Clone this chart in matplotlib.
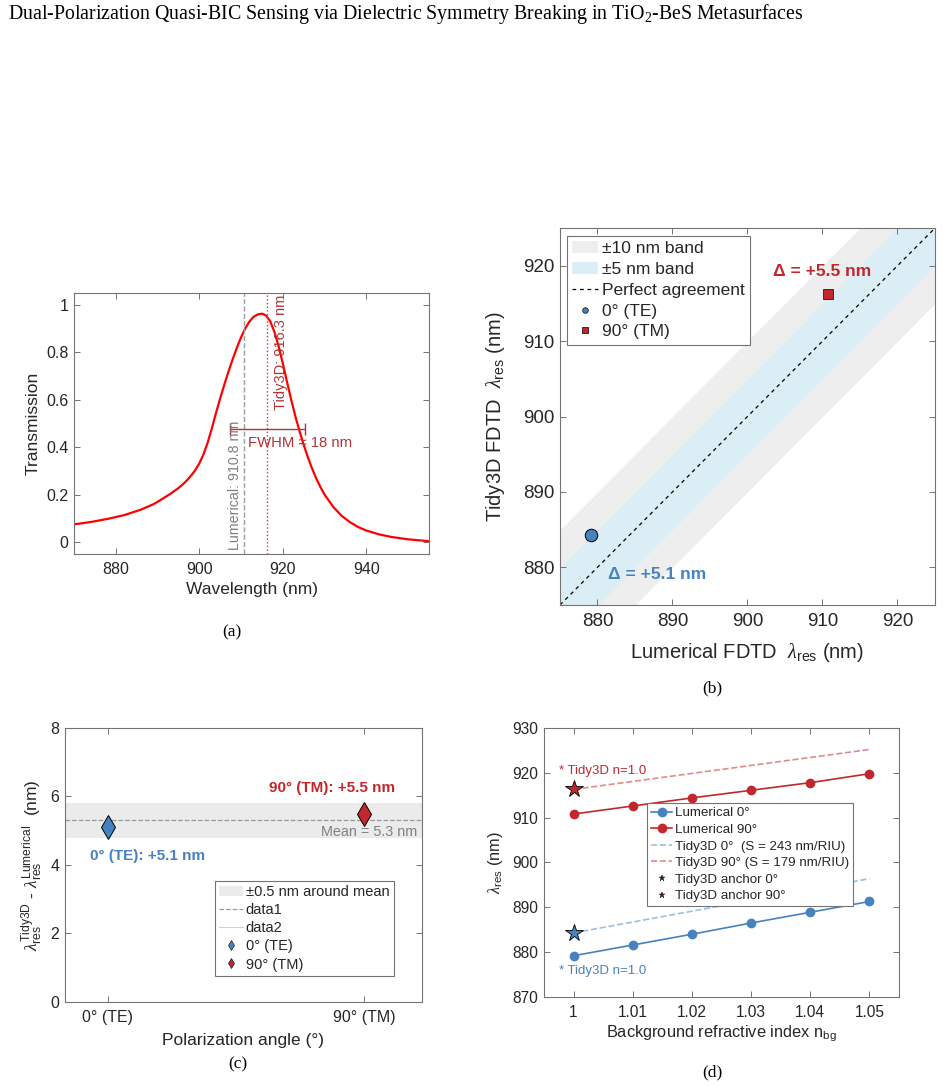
import matplotlib
matplotlib.use('Agg')
import matplotlib.pyplot as plt
from matplotlib.patches import Patch
from matplotlib.lines import Line2D
import numpy as np

plt.rcParams['font.family'] = ['Liberation Sans', 'DejaVu Sans']
plt.rcParams['mathtext.fontset'] = 'custom'
plt.rcParams['mathtext.rm'] = 'Liberation Sans'
plt.rcParams['mathtext.it'] = 'Liberation Serif:italic'
plt.rcParams['mathtext.bf'] = 'Liberation Sans:bold'

BLUE = '#4682BE'
RED = '#C0282D'
DARKRED = '#B03535'
SPINE = '0.45'
TXT = '0.15'

# (a) transmission spectrum
wl = [870, 874, 878, 882, 886, 889, 890, 893, 895, 896, 897, 898, 899, 900, 901,
      902, 903, 904, 905, 906, 907, 908, 909, 910, 911, 912, 913, 914, 915, 916,
      917, 918, 919, 920, 921, 922, 923, 924, 925, 926, 927, 928, 929, 930, 932,
      934, 936, 938, 940, 943, 946, 950, 955]
trans = [0.075, 0.085, 0.098, 0.114, 0.137, 0.160, 0.170, 0.203, 0.228, 0.243,
         0.260, 0.280, 0.303, 0.332, 0.370, 0.420, 0.480, 0.545, 0.607, 0.665,
         0.720, 0.772, 0.820, 0.864, 0.901, 0.930, 0.950, 0.960, 0.963, 0.955,
         0.930, 0.885, 0.825, 0.752, 0.675, 0.600, 0.530, 0.467, 0.410, 0.357,
         0.310, 0.268, 0.232, 0.200, 0.150, 0.112, 0.085, 0.064, 0.049, 0.033,
         0.022, 0.012, 0.004]
lum_peak = 910.8
tidy_peak = 916.3
fwhm = 18
fwhm_level = 0.476

# (b) solver comparison
lum_res = [879.2, 910.8]
tidy_res = [884.3, 916.3]
band_widths = [10, 5]
diag = [875, 925]

# (c) offsets
pol_angle = [0, 90]
pol_ticks = ['0° (TE)', '90° (TM)']
shift = [5.1, 5.5]
mean_shift = 5.3
mean_band = 0.5

# (d) sensitivity
n_bg = [1.0, 1.01, 1.02, 1.03, 1.04, 1.05]
lum_te = [879.2, 881.6, 884.0, 886.5, 888.9, 891.3]
lum_tm = [910.8, 912.6, 914.4, 916.1, 917.8, 919.8]
n_line = [1.0, 1.05]
tidy_te_line = [884.3, 896.4]
tidy_tm_line = [916.3, 925.2]
sens = [243, 179]


def style(ax, size):
    for s in ax.spines.values():
        s.set_color(SPINE)
        s.set_linewidth(0.8)
    ax.tick_params(direction='in', top=True, right=True, length=4, width=0.7,
                   color=SPINE, labelcolor=TXT, labelsize=size)
    ax.tick_params(axis='x', pad=6)
    ax.tick_params(axis='y', pad=4)


def leg(ax, handles, labels, size, spacing=0.2, **kw):
    lg = ax.legend(handles, labels, fontsize=size, frameon=True, fancybox=False,
                   framealpha=1, edgecolor='0.45', borderpad=0.3, labelspacing=spacing,
                   handletextpad=0.2, borderaxespad=0, **kw)
    lg.get_frame().set_linewidth(0.8)
    for t in lg.get_texts():
        t.set_color(TXT)
    return lg


fig = plt.figure(figsize=(9.43, 10.87), dpi=100)

fig.text(0.0085, 0.987, r'Dual-Polarization Quasi-BIC Sensing via Dielectric Symmetry Breaking in TiO$_{\mathregular{2}}$-BeS Metasurfaces',
         family='Liberation Serif', fontsize=14.3, va='center', ha='left')

# ---- (a)
ax = fig.add_axes([0.0785, 0.4903, 0.3765, 0.2401])
ax.plot(wl, trans, color='red', lw=1.6)
ax.axvline(lum_peak, color='0.62', ls='--', lw=1.0)
ax.axvline(tidy_peak, color='#E03030', ls=':', lw=1.0)
ax.errorbar(tidy_peak, fwhm_level, xerr=fwhm / 2, fmt='none', ecolor=DARKRED,
            elinewidth=1.0, capsize=4.5, capthick=1.0)
ax.text(lum_peak - 0.7, -0.035, 'Lumerical: %.1f nm' % lum_peak, rotation=90,
        ha='right', va='bottom', color='0.5', fontsize=10.3)
ax.text(tidy_peak + 1.6, 0.556, 'Tidy3D: %.1f nm' % tidy_peak, rotation=90,
        ha='left', va='bottom', color=DARKRED, fontsize=10.5)
ax.text(911.7, 0.42, 'FWHM ≈ %d nm' % fwhm, ha='left', va='center',
        color=DARKRED, fontsize=10.7)
ax.set_xlim(870, 955)
ax.set_ylim(-0.05, 1.05)
ax.set_xticks([880, 900, 920, 940])
ax.set_yticks([0, 0.2, 0.4, 0.6, 0.8, 1])
ax.set_yticklabels(['0', '0.2', '0.4', '0.6', '0.8', '1'])
style(ax, 11.5)
ax.set_xlabel('Wavelength (nm)', fontsize=12.5, color=TXT)
ax.set_ylabel('Transmission', fontsize=12.5, color=TXT)
ax.xaxis.set_label_coords(0.5, -0.108)
ax.yaxis.set_label_coords(-0.095, 0.5)

# ---- (b)
ax = fig.add_axes([0.5938, 0.4434, 0.3977, 0.3468])
d = np.array(diag, dtype=float)
ax.fill_between(d, d - band_widths[0], d + band_widths[0], color='#EEEEEE', lw=0)
ax.fill_between(d, d - band_widths[1], d + band_widths[1], color='#DCEEF5', lw=0)
ax.plot(d, d, '--', color='k', lw=0.9, dashes=(3, 3))
ax.plot(lum_res[0], tidy_res[0], 'o', ms=9, mfc=BLUE, mec='k', mew=0.7)
ax.plot(lum_res[1], tidy_res[1], 's', ms=7.5, mfc=RED, mec='k', mew=0.5)
ax.text(910, 919.2, 'Δ = +%.1f nm' % (tidy_res[1] - lum_res[1]), color=RED,
        fontweight='bold', ha='center', va='center', fontsize=12.5)
ax.text(888, 879.1, 'Δ = +%.1f nm' % (tidy_res[0] - lum_res[0]), color=BLUE,
        fontweight='bold', ha='center', va='center', fontsize=12.5)
ax.set_xlim(875, 925)
ax.set_ylim(875, 925)
ax.set_xticks([880, 890, 900, 910, 920])
ax.set_yticks([880, 890, 900, 910, 920])
style(ax, 13.5)
ax.set_xlabel(r'Lumerical FDTD  $\lambda_{\mathrm{res}}$ (nm)', fontsize=14.5, color=TXT)
ax.set_ylabel(r'Tidy3D FDTD  $\lambda_{\mathrm{res}}$ (nm)', fontsize=14.5, color=TXT)
ax.xaxis.set_label_coords(0.5, -0.095)
ax.yaxis.set_label_coords(-0.14, 0.5)
hb = [Patch(facecolor='#EEEEEE', edgecolor='none'),
      Patch(facecolor='#DCEEF5', edgecolor='none'),
      Line2D([], [], color='k', ls='--', lw=0.9, dashes=(3, 3)),
      Line2D([], [], ls='none', marker='o', ms=4, mfc=BLUE, mec='k', mew=0.5),
      Line2D([], [], ls='none', marker='s', ms=4, mfc=RED, mec='k', mew=0.5)]
leg(ax, hb, ['±10 nm band', '±5 nm band', 'Perfect agreement', '0° (TE)', '90° (TM)'],
    12.5, spacing=0.33, loc='upper left', bbox_to_anchor=(0.019, 0.98), handlelength=1.5)

# ---- (c)
ax = fig.add_axes([0.0689, 0.0782, 0.3786, 0.2521])
ax.axhspan(mean_shift - mean_band, mean_shift + mean_band, color='#EBEBEB', lw=0)
ax.axhline(mean_shift, color='0.6', ls='--', lw=0.9)
ax.plot(pol_angle[0], shift[0], 'd', ms=12.5, mfc=BLUE, mec='k', mew=0.7)
ax.plot(pol_angle[1], shift[1], 'd', ms=12.5, mfc=RED, mec='k', mew=0.7)
ax.text(14, 4.27, '0° (TE): +%.1f nm' % shift[0], color=BLUE, fontweight='bold',
        ha='center', va='center', fontsize=11)
ax.text(78.8, 6.25, '90° (TM): +%.1f nm' % shift[1], color=RED, fontweight='bold',
        ha='center', va='center', fontsize=11)
ax.text(108.6, 4.96, 'Mean = %.1f nm' % mean_shift, color='0.5', ha='right',
        va='center', fontsize=10.4)
ax.set_xlim(-15, 110.4)
ax.set_ylim(0, 8)
ax.set_xticks(pol_angle)
ax.set_xticklabels(pol_ticks)
ax.set_yticks([0, 2, 4, 6, 8])
style(ax, 11.5)
ax.set_xlabel('Polarization angle (°)', fontsize=12.5, color=TXT)
ax.set_ylabel(r'$\lambda_{\mathrm{res}}^{\mathrm{Tidy3D}}$ - $\lambda_{\mathrm{res}}^{\mathrm{Lumerical}}$  (nm)',
              fontsize=12.5, color=TXT)
ax.xaxis.set_label_coords(0.5, -0.112)
ax.yaxis.set_label_coords(-0.06, 0.5)
hc = [Patch(facecolor='#EBEBEB', edgecolor='none'),
      Line2D([], [], color='0.6', ls='--', lw=0.9),
      Line2D([], [], color='0.82', lw=0.8),
      Line2D([], [], ls='none', marker='d', ms=5, mfc=BLUE, mec='k', mew=0.4),
      Line2D([], [], ls='none', marker='d', ms=5, mfc=RED, mec='k', mew=0.4)]
leg(ax, hc, ['±0.5 nm around mean', 'data1', 'data2', '0° (TE)', '90° (TM)'],
    10.5, spacing=0.28, loc='upper left', bbox_to_anchor=(0.42, 0.442), handlelength=1.6)

# ---- (d)
ax = fig.add_axes([0.5769, 0.0828, 0.3765, 0.2475])
ax.plot(n_line, tidy_te_line, '--', color='#9DBFE3', lw=1.2)
ax.plot(n_line, tidy_tm_line, '--', color='#E38A8A', lw=1.2)
ax.plot(n_bg, lum_te, '-o', color=BLUE, ms=6, lw=1.2)
ax.plot(n_bg, lum_tm, '-o', color=RED, ms=6, lw=1.2)
ax.plot(n_line[0], tidy_te_line[0], '*', ms=13, mfc=BLUE, mec='k', mew=0.6)
ax.plot(n_line[0], tidy_tm_line[0], '*', ms=13, mfc=RED, mec='k', mew=0.6)
ax.text(0.9975, 920.3, '* Tidy3D n=1.0', color=RED, ha='left', va='center', fontsize=9.5)
ax.text(0.9975, 875.8, '* Tidy3D n=1.0', color=BLUE, ha='left', va='center', fontsize=9.5)
ax.set_xlim(0.995, 1.055)
ax.set_ylim(870, 930)
ax.set_xticks(n_bg)
ax.set_xticklabels(['1', '1.01', '1.02', '1.03', '1.04', '1.05'])
ax.set_yticks([870, 880, 890, 900, 910, 920, 930])
style(ax, 11.2)
ax.set_xlabel(r'Background refractive index n$_{\mathrm{bg}}$', fontsize=11.8, color=TXT)
ax.set_ylabel(r'$\lambda_{\mathrm{res}}$ (nm)', fontsize=11.8, color=TXT)
ax.xaxis.set_label_coords(0.5, -0.1)
ax.yaxis.set_label_coords(-0.11, 0.5)
hd = [Line2D([], [], color=BLUE, marker='o', ms=6, lw=1.2),
      Line2D([], [], color=RED, marker='o', ms=6, lw=1.2),
      Line2D([], [], color='#9DBFE3', ls='--', lw=1.2),
      Line2D([], [], color='#E38A8A', ls='--', lw=1.2),
      Line2D([], [], ls='none', marker='*', ms=5, mfc='#1a2a3a', mec='k', mew=0.3),
      Line2D([], [], ls='none', marker='*', ms=5, mfc='#5a1515', mec='k', mew=0.3)]
leg(ax, hd, ['Lumerical 0°', 'Lumerical 90°',
             'Tidy3D 0°  (S = %d nm/RIU)' % sens[0],
             'Tidy3D 90° (S = %d nm/RIU)' % sens[1],
             'Tidy3D anchor 0°', 'Tidy3D anchor 90°'],
    9.6, spacing=0.32, loc='upper left', bbox_to_anchor=(0.29, 0.721), handlelength=1.6)

# captions
for x, y, s in [(232, 632, '(a)'), (712, 688, '(b)'), (238, 1064, '(c)'), (712, 1072, '(d)')]:
    fig.text(x / 943, 1 - y / 1087, s, family='Liberation Serif', fontsize=12.5,
             ha='center', va='center')

fig.savefig('out.png', dpi=100)
